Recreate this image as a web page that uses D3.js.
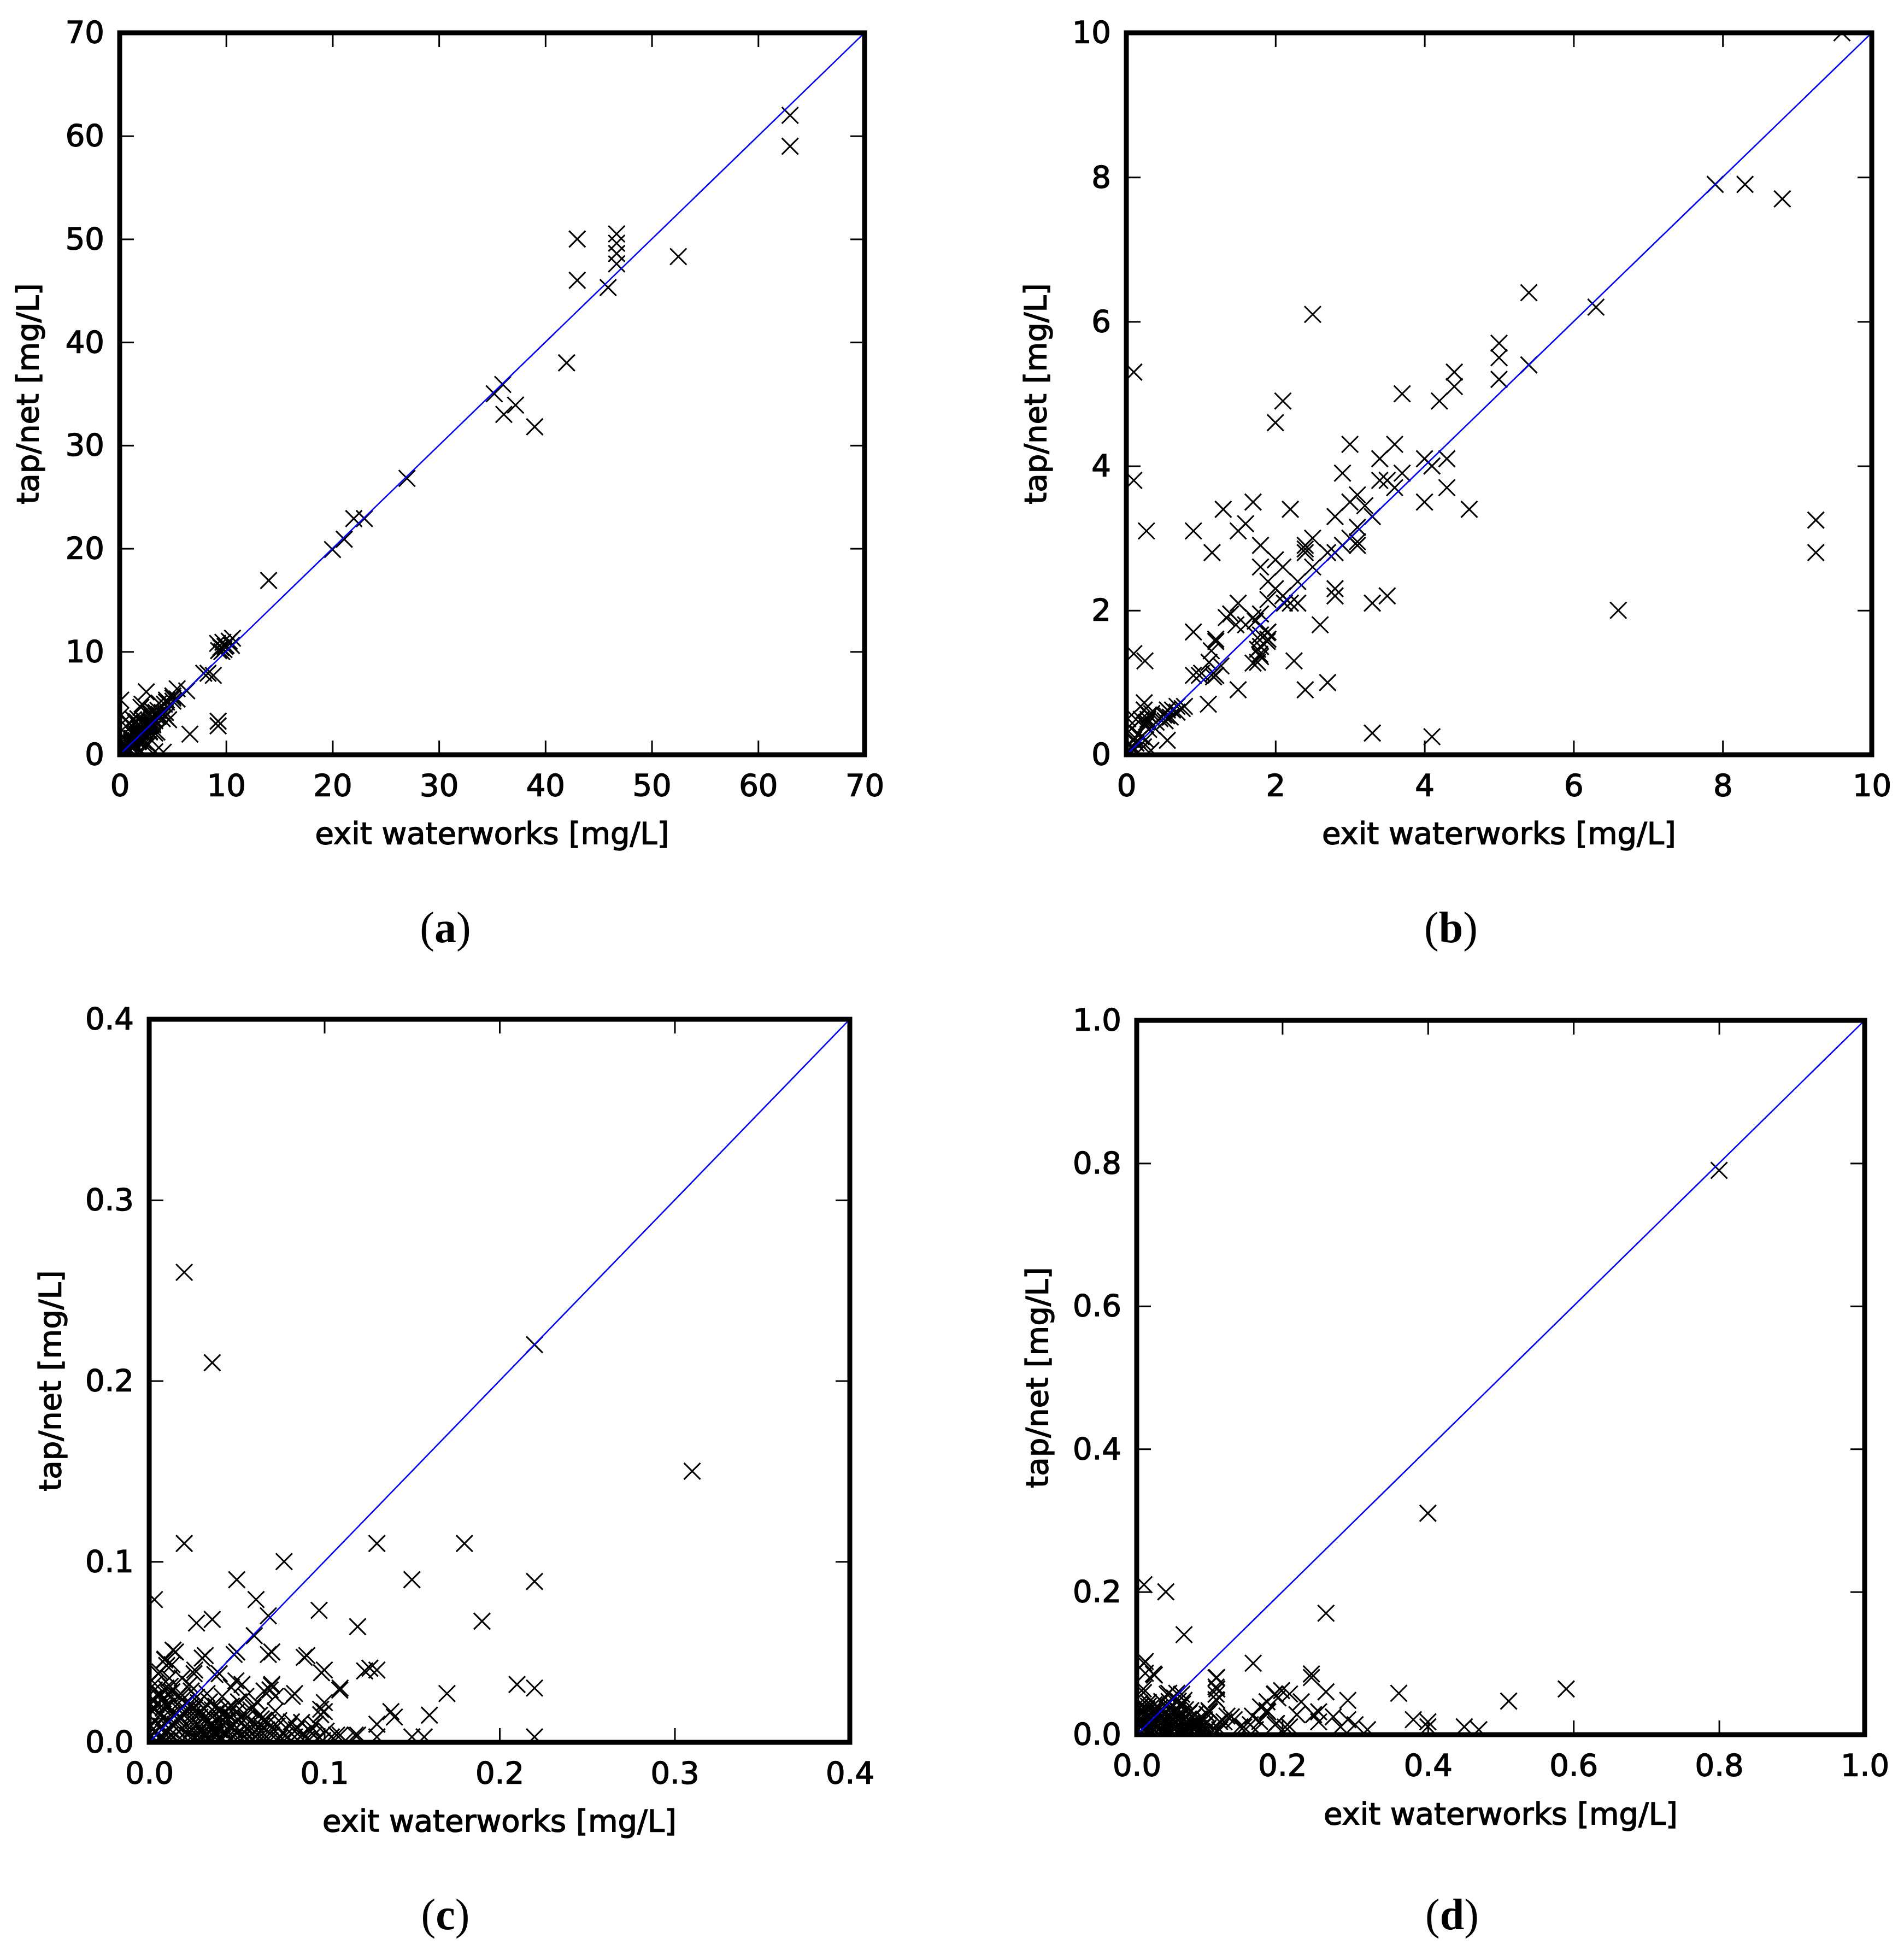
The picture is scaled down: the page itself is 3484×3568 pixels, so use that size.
<!DOCTYPE html>
<html>
<head>
<meta charset="utf-8">
<script src="https://cdn.jsdelivr.net/npm/d3@7"></script>
<style>
    body { margin: 0; background: #fff; }
    .tick text { font-family: "DejaVu Sans", sans-serif; stroke: #000; stroke-width: 1.4px; }
    .axis-label { font-family: "DejaVu Sans", sans-serif; stroke: #000; stroke-width: 1.4px; }
    .caption { font-family: "Liberation Serif", "DejaVu Serif", serif; }
</style>
</head>
<body>
<svg id="chart"></svg>
<script>
// (exit waterworks, tap/net) pairs, panels (a) and (b) share the same set
const pointsAB = [
    [9.6,10.0],[7.9,7.9],[8.3,7.9],[8.8,7.7],[5.4,6.4],[6.3,6.2],[2.5,6.1],[0.1,5.3],[5.0,5.7],[5.0,5.5],
    [5.4,5.4],[5.0,5.2],[4.4,5.3],[4.4,5.1],[3.7,5.0],[4.2,4.9],[2.1,4.9],[2.0,4.6],[3.0,4.3],[3.6,4.3],
    [3.4,4.1],[4.0,4.1],[4.3,4.1],[4.1,4.0],[0.1,3.8],[2.9,3.9],[3.7,3.9],[3.4,3.8],[3.5,3.8],[3.6,3.7],
    [4.3,3.7],[4.0,3.5],[4.6,3.4],[3.1,3.6],[3.0,3.5],[3.2,3.45],[3.3,3.3],[2.8,3.3],[1.7,3.5],[1.3,3.4],
    [2.2,3.4],[1.6,3.2],[1.5,3.1],[0.9,3.1],[0.27,3.1],[1.15,2.8],[1.8,2.9],[2.4,2.9],[2.5,3.0],[2.4,2.8],
    [2.9,2.9],[2.8,2.8],[3.0,3.0],[3.1,2.95],[3.1,3.15],[3.1,2.9],[2.4,2.85],[2.7,2.8],[2.5,2.6],[1.8,2.6],
    [2.0,2.7],[2.1,2.6],[1.9,2.4],[2.1,2.2],[2.3,2.4],[2.0,2.3],[2.2,2.1],[2.3,2.1],[1.9,2.15],[2.12,2.1],
    [2.8,2.3],[2.8,2.2],[3.3,2.1],[3.5,2.2],[6.6,2.0],[9.25,3.25],[9.25,2.8],[1.5,2.1],[1.4,1.95],[1.47,1.8],
    [1.34,1.9],[1.6,1.8],[1.7,1.9],[1.8,1.95],[1.73,1.85],[1.89,1.69],[1.8,1.66],[1.79,1.59],[1.8,1.5],[1.76,1.46],
    [1.79,1.39],[1.8,1.36],[1.7,1.27],[1.76,1.28],[1.89,1.57],[1.9,1.6],[1.9,1.7],[2.6,1.8],[0.9,1.7],[1.2,1.6],
    [1.2,1.57],[1.14,1.44],[1.11,1.28],[1.01,1.13],[0.98,1.1],[1.17,1.13],[1.27,1.23],[1.17,1.08],[0.9,1.1],[1.2,1.1],
    [0.1,1.4],[0.25,1.3],[2.25,1.3],[1.5,0.9],[2.4,0.9],[2.7,1.0],[1.1,0.7],[3.3,0.3],[4.1,0.25],
    [0.24,0.72],[0.24,0.62],[0.2,0.49],[0.29,0.49],[0.13,0.49],[0.34,0.57],[0.26,0.41],[0.55,0.62],[0.62,0.62],[0.68,0.67],
    [0.78,0.67],[0.54,0.54],[0.59,0.52],[0.52,0.47],[0.55,0.2],[0.16,0.29],[0.26,0.21],[0.13,0.16],[0.23,0.11],[0.1,0.06],
    [0.33,0.06],[0.07,0.36],[0.1,0.21],[0.02,0.5],[0.68,0.59],[0.75,0.64],[0.07,0.11],[0.04,0.03],[0.3,0.35],[0.4,0.45],
    [0.45,0.5],[0.35,0.4],[0.5,0.55],[0.15,0.2],[0.2,0.25],[0.05,0.15],[0.3,0.55],[0.27,0.45]
];

// values above the range of panel (b)
const highPointsA = [
    [63,62],[63,59],[43,50],[43,46],[46.7,50.5],[46.7,49.6],[46.7,48.6],[46.7,47.6],[45.9,45.3],[52.5,48.3],
    [42,38],[35.2,35],[36,35.9],[36.1,33],[37.2,33.9],[39,31.8],[27,26.8],[22,22.9],[23,22.9],[20,19.9],
    [21.1,20.9],[14,16.9],[9.2,10.8],[9.5,10.4],[9.8,10.2],[10,10.6],[10.3,11],[10.6,11.3],[9.3,10.1],[9.9,10.5],
    [10.5,10.6],[9.7,10.9]
];

const pointsC = [
    [0.02,0.26],[0.036,0.21],[0.22,0.22],[0.31,0.15],[0.02,0.11],[0.13,0.11],[0.18,0.11],[0.077,0.1],[0.05,0.09],[0.15,0.09],
    [0.22,0.089],[0.003,0.079],[0.061,0.079],[0.068,0.07],[0.097,0.073],[0.119,0.064],[0.19,0.067],[0.027,0.066],[0.036,0.068],[0.06,0.059],
    [0.07,0.05],[0.05,0.05],[0.032,0.048],[0.015,0.05],[0.009,0.046],[0.013,0.043],[0.006,0.039],[0.09,0.048],[0.1,0.04],[0.126,0.041],
    [0.13,0.04],[0.109,0.03],[0.083,0.027],[0.17,0.027],[0.21,0.032],[0.22,0.03],[0.22,0.003],[0.026,0.04],[0.012,0.031],[0.023,0.032],
    [0.04,0.038],[0.053,0.032],[0.07,0.032],[0.069,0.029],[0.1,0.017],[0.1,0.022],[0.138,0.017],[0.14,0.014],[0.13,0.01],[0.16,0.015],
    [0.095,0.01],[0.109,0.004],[0.119,0.004],[0.13,0.003],[0.15,0.003],[0.157,0.003],
    [0.0136,0.051],[0.0089,0.0456],[0.0053,0.038],[0.01,0.0425],[0.0032,0.0325],[0.0095,0.03],[0.0256,0.038],[0.0303,0.0466],[0.0485,0.0486],[0.068,0.0486],
    [0.0885,0.047],[0.0984,0.0385],[0.1088,0.0289],[0.123,0.0395],[0.0817,0.0254],[0.0698,0.0314],[0.0495,0.034],[0.0375,0.0375],[0.024,0.0284],[0.0979,0.0183],
    [0.0979,0.0153],[0.0927,0.0083],[0.107,0.004],[0.1176,0.004],[0.0864,0.003],[0.076,0.005],[0.0656,0.0123],[0.0594,0.0194],[0.0552,0.0254],[0.0469,0.0304],
    [0.0417,0.0254],[0.0344,0.0224],[0.0656,0.0284],[0.072,0.0254],[0.072,0.0173],[0.0615,0.0224],[0.051,0.0224],[0.0448,0.0153],[0.0552,0.0133],[0.0812,0.0113],
    [0.101,0.0062],[0.0167,0.0254],[0.0188,0.0355],[0.0115,0.0355],[0.0053,0.0254],
    [0.002,0.002],[0.004,0.006],[0.003,0.012],[0.002,0.017],[0.001,0.009],[0.006,0.003],[0.007,0.009],[0.006,0.015],[0.008,0.019],[0.009,0.005],
    [0.011,0.012],[0.01,0.001],[0.012,0.007],[0.013,0.016],[0.014,0.003],[0.015,0.01],[0.016,0.021],[0.017,0.006],[0.018,0.014],[0.019,0.001],
    [0.02,0.009],[0.021,0.018],[0.022,0.004],[0.023,0.012],[0.024,0.007],[0.025,0.016],[0.026,0.002],[0.027,0.01],[0.028,0.005],[0.029,0.014],
    [0.03,0.008],[0.031,0.019],[0.032,0.003],[0.033,0.011],[0.034,0.006],[0.035,0.015],[0.036,0.001],[0.037,0.009],[0.038,0.004],[0.039,0.013],
    [0.04,0.007],[0.041,0.018],[0.042,0.002],[0.043,0.011],[0.044,0.005],[0.046,0.009],[0.047,0.014],[0.048,0.003],[0.049,0.007],[0.051,0.012],
    [0.052,0.001],[0.053,0.005],[0.055,0.009],[0.057,0.003],[0.058,0.012],[0.06,0.006],[0.062,0.002],[0.064,0.009],[0.066,0.004],[0.069,0.001],
    [0.071,0.007],[0.074,0.002],[0.078,0.004],[0.081,0.001],[0.084,0.007],[0.09,0.002],[0.094,0.004],[0.099,0.001],[0.104,0.003],[0.112,0.001],
    [0.008,0.024],[0.004,0.021],[0.014,0.023],[0.011,0.027],[0.019,0.026],[0.028,0.022],[0.033,0.027],[0.038,0.02],[0.045,0.019],[0.05,0.017],
    [0.054,0.016],[0.063,0.015],[0.068,0.011],[0.074,0.012],[0.08,0.009],[0.087,0.011],[0.092,0.006],
    [0.001,0.004],[0.003,0.019],[0.005,0.01],[0.007,0.001],[0.008,0.014],[0.01,0.02],[0.012,0.004],[0.013,0.01],[0.015,0.016],[0.016,0.001],
    [0.017,0.012],[0.019,0.008],[0.02,0.015],[0.022,0.001],[0.023,0.008],[0.025,0.012],[0.026,0.019],[0.028,0.001],[0.029,0.009],[0.031,0.005],
    [0.032,0.014],[0.034,0.002],[0.035,0.01],[0.037,0.006],[0.038,0.016],[0.04,0.002],[0.041,0.011],[0.043,0.006],[0.045,0.013],[0.046,0.002],
    [0.048,0.01],[0.05,0.005],[0.052,0.014],[0.054,0.003],[0.056,0.007],[0.059,0.002],[0.061,0.01],[0.063,0.005],[0.065,0.001],[0.067,0.007],
    [0.002,0.024],[0.006,0.027],[0.003,0.029],[0.009,0.022],[0.013,0.028],[0.017,0.018],[0.021,0.022],[0.024,0.02],[0.027,0.025],[0.03,0.017],
    [0.036,0.018],[0.042,0.015],[0.047,0.02],[0.058,0.018],[0.064,0.013],[0.07,0.004],[0.073,0.009],[0.077,0.001],[0.083,0.003],[0.088,0.005],
    [0.096,0.002]
];

const pointsD = [
    [0.8,0.79],[0.4,0.31],[0.26,0.17],[0.01,0.21],[0.04,0.2],[0.065,0.14],[0.16,0.1],[0.24,0.085],[0.24,0.08],[0.26,0.06],
    [0.29,0.048],[0.36,0.058],[0.38,0.021],[0.4,0.018],[0.4,0.011],[0.45,0.011],[0.47,0.007],[0.511,0.047],[0.59,0.064],[0.11,0.08],
    [0.11,0.064],[0.11,0.048],[0.01,0.1],[0.023,0.085],[0.009,0.064],[0.044,0.058],[0.055,0.058],[0.065,0.048],[0.19,0.057],[0.21,0.057],
    [0.17,0.039],[0.18,0.032],[0.226,0.046],[0.22,0.028],[0.243,0.028],[0.25,0.018],[0.25,0.032],[0.27,0.025],[0.29,0.021],[0.3,0.014],
    [0.317,0.007],[0.28,0.011],[0.19,0.014],[0.21,0.011],[0.156,0.014],[0.13,0.025],[0.12,0.018],[0.1,0.032],[0.093,0.021],[0.08,0.028],
    [0.072,0.014],[0.09,0.011],[0.114,0.007],[0.142,0.011],[0.163,0.007],
    [0.0118,0.1025],[0.0118,0.086],[0.0243,0.0834],[0.109,0.0796],[0.109,0.0668],[0.109,0.0566],[0.109,0.049],[0.0093,0.059],[0.0418,0.0566],[0.0518,0.0515],
    [0.0618,0.0566],[0.0443,0.0464],[0.0343,0.0464],[0.0743,0.0337],[0.0993,0.0337],[0.124,0.026],[0.134,0.021],[0.159,0.026],[0.179,0.046],[0.189,0.0566],
    [0.199,0.0617],[0.194,0.0515],[0.179,0.0337],[0.169,0.0184],[0.192,0.0158],[0.204,0.0107],[0.114,0.0184],[0.0968,0.0286],[0.0843,0.0133],[0.147,0.0107],
    [0.003,0.003],[0.005,0.012],[0.004,0.022],[0.003,0.032],[0.006,0.04],[0.01,0.006],[0.012,0.017],[0.011,0.028],[0.014,0.036],[0.017,0.002],
    [0.019,0.011],[0.02,0.023],[0.022,0.031],[0.025,0.007],[0.027,0.016],[0.029,0.027],[0.031,0.037],[0.033,0.003],[0.035,0.012],[0.037,0.021],
    [0.04,0.03],[0.042,0.008],[0.044,0.017],[0.047,0.038],[0.049,0.004],[0.051,0.013],[0.053,0.024],[0.056,0.033],[0.058,0.008],[0.061,0.018],
    [0.063,0.043],[0.066,0.003],[0.068,0.012],[0.071,0.022],[0.075,0.006],[0.078,0.015],[0.082,0.004],[0.086,0.009],[0.091,0.002],[0.096,0.006],
    [0.102,0.003],[0.016,0.045],[0.024,0.042],[0.057,0.047],[0.046,0.027],[0.038,0.005],[0.064,0.028],
    [0.002,0.008],[0.002,0.017],[0.001,0.027],[0.002,0.037],[0.004,0.044],[0.007,0.003],[0.008,0.02],[0.009,0.033],[0.013,0.009],[0.015,0.025],
    [0.016,0.04],[0.021,0.005],[0.023,0.018],[0.025,0.034],[0.028,0.01],[0.03,0.021],[0.032,0.03],[0.036,0.007],[0.039,0.016],[0.041,0.025],
    [0.043,0.036],[0.046,0.002],[0.048,0.011],[0.05,0.02],[0.052,0.03],[0.055,0.005],[0.057,0.015],[0.06,0.026],[0.062,0.009],[0.065,0.02],
    [0.067,0.035],[0.07,0.004],[0.073,0.013],[0.077,0.024],[0.08,0.008],[0.084,0.017],[0.088,0.003],[0.092,0.012],[0.098,0.009],[0.105,0.001],
    [0.11,0.005],[0.06,0.04],[0.072,0.03],[0.085,0.022],[0.095,0.016]
];

const ticksA = [0, 10, 20, 30, 40, 50, 60, 70];
const ticksB = [0, 2, 4, 6, 8, 10];
const ticksC = [0.0, 0.1, 0.2, 0.3, 0.4];
const ticksD = [0.0, 0.2, 0.4, 0.6, 0.8, 1.0];

const xTitle = "exit waterworks [mg/L]";
const yTitle = "tap/net [mg/L]";

const svg = d3.select("#chart")
    .attr("width", 3484)
    .attr("height", 3568);

svg.append("rect")
    .attr("width", 3484)
    .attr("height", 3568)
    .attr("fill", "#fff");

function drawPanel(p, idx) {
    const x = d3.scaleLinear().domain([0, p.max]).range([p.left, p.right]);
    const y = d3.scaleLinear().domain([0, p.max]).range([p.bottom, p.top]);
    const tickLen = 26;

    const clipId = "clip-" + idx;
    svg.append("clipPath")
        .attr("id", clipId)
        .append("rect")
        .attr("x", p.left)
        .attr("y", p.top)
        .attr("width", p.right - p.left)
        .attr("height", p.bottom - p.top);

    const plot = svg.append("g").attr("clip-path", `url(#${clipId})`);

    // x markers
    plot.selectAll(".pt")
        .data(p.points)
        .join("path")
        .attr("class", "pt")
        .attr("transform", d => `translate(${x(d[0])},${y(d[1])})`)
        .attr("d", "M-15,-15L15,15M-15,15L15,-15")
        .attr("fill", "none")
        .attr("stroke", "#000")
        .attr("stroke-width", 3);

    // 1:1 line
    plot.append("line")
        .attr("x1", x(0)).attr("y1", y(0))
        .attr("x2", x(p.max)).attr("y2", y(p.max))
        .attr("stroke", "#0000ff")
        .attr("stroke-width", 2.6);

    const axes = [
        {axis: d3.axisBottom(x).tickFormat(p.fmt).tickPadding(35), t: `translate(0,${p.bottom})`},
        {axis: d3.axisLeft(y).tickFormat(p.fmt).tickPadding(28), t: `translate(${p.left},0)`},
        {axis: d3.axisTop(x).tickFormat(""), t: `translate(0,${p.top})`},
        {axis: d3.axisRight(y).tickFormat(""), t: `translate(${p.right},0)`}
    ];
    axes.forEach(a => {
        const g = svg.append("g")
            .attr("transform", a.t)
            .call(a.axis.tickValues(p.ticks).tickSizeInner(-tickLen).tickSizeOuter(0));
        g.select(".domain").remove();
        g.selectAll(".tick line").attr("stroke", "#000").attr("stroke-width", 3);
        g.selectAll(".tick text")
            .attr("fill", "#000")
            .style("font-size", "56px");
    });

    // frame
    svg.append("rect")
        .attr("x", p.left)
        .attr("y", p.top)
        .attr("width", p.right - p.left)
        .attr("height", p.bottom - p.top)
        .attr("fill", "none")
        .attr("stroke", "#000")
        .attr("stroke-width", 9);

    svg.append("text")
        .attr("class", "axis-label")
        .attr("x", (p.left + p.right) / 2)
        .attr("y", p.xLabelY)
        .attr("dy", "0.36em")
        .attr("text-anchor", "middle")
        .style("font-size", "56px")
        .text(xTitle);

    svg.append("text")
        .attr("class", "axis-label")
        .attr("transform", `translate(${p.yLabelX},${(p.top + p.bottom) / 2}) rotate(-90)`)
        .attr("dy", "0.36em")
        .attr("text-anchor", "middle")
        .style("font-size", "56px")
        .text(yTitle);

    const cap = svg.append("text")
        .attr("class", "caption")
        .attr("x", p.capX)
        .attr("y", p.capY)
        .attr("dy", "0.26em")
        .attr("text-anchor", "middle")
        .style("font-size", "80px");
    cap.append("tspan").text("(");
    cap.append("tspan").attr("font-weight", "bold").text(p.name);
    cap.append("tspan").text(")");
}

const panels = [
    {name: "a", max: 70, ticks: ticksA, fmt: d3.format("d"), points: pointsAB.concat(highPointsA),
     left: 219, right: 1582, top: 60, bottom: 1381, xLabelY: 1524, yLabelX: 50, capX: 815, capY: 1703},
    {name: "b", max: 10, ticks: ticksB, fmt: d3.format("d"), points: pointsAB.concat(highPointsA),
     left: 2061, right: 3425, top: 60, bottom: 1381, xLabelY: 1524, yLabelX: 1894, capX: 2655, capY: 1703},
    {name: "c", max: 0.4, ticks: ticksC, fmt: d3.format(".1f"), points: pointsC,
     left: 273, right: 1555, top: 1865, bottom: 3188, xLabelY: 3331, yLabelX: 91, capX: 815, capY: 3509},
    {name: "d", max: 1.0, ticks: ticksD, fmt: d3.format(".1f"), points: pointsD,
     left: 2080, right: 3412, top: 1867, bottom: 3174, xLabelY: 3318, yLabelX: 1897, capX: 2657, capY: 3509}
];

panels.forEach(drawPanel);
</script>
</body>
</html>
